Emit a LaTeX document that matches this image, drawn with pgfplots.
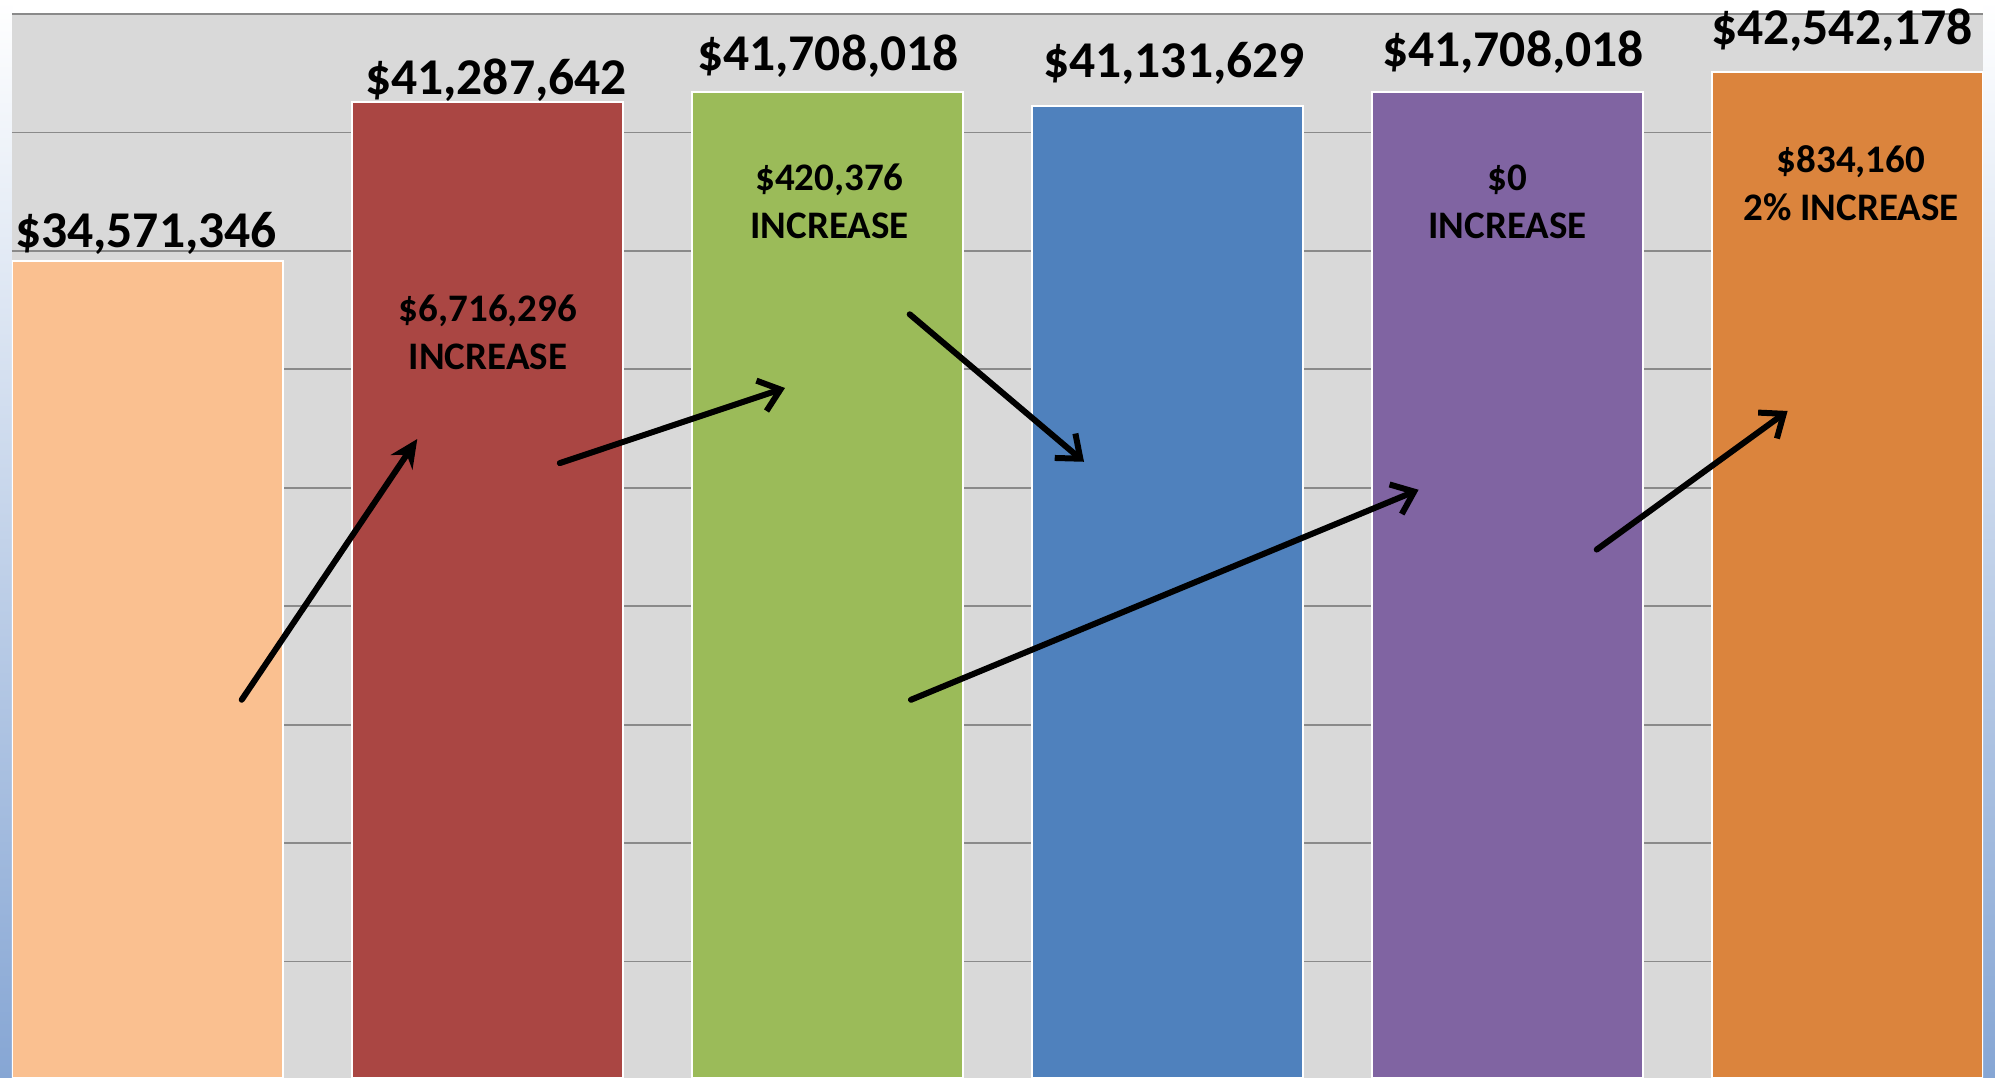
\documentclass[border=0pt]{standalone}
\usepackage{pgfplots}
\pgfplotsset{compat=1.18}
\usepackage{fontspec}
\setmainfont{Carlito}
\usetikzlibrary{arrows.meta}
\definecolor{bggray}{HTML}{D9D9D9}
\definecolor{gridgray}{HTML}{8A8A8A}
\definecolor{cA}{HTML}{FAC090}
\definecolor{cB}{HTML}{AA4643}
\definecolor{cC}{HTML}{9BBB59}
\definecolor{cD}{HTML}{4F81BD}
\definecolor{cE}{HTML}{8064A2}
\definecolor{cF}{HTML}{DB843D}
\definecolor{stripblue}{HTML}{86A6D4}
\begin{document}
\begin{tikzpicture}[x=0.25pt,y=0.25pt]
\path[use as bounding box, fill=white] (0,0) rectangle (1995,1078);
\shade[top color=white, bottom color=stripblue] (0,0) rectangle (12,1078);
\shade[top color=white, bottom color=stripblue] (1983,0) rectangle (1995,1078);
\begin{axis}[
  at={(3pt,0pt)}, anchor=south west,
  scale only axis, width=492.75pt, height=266pt,
  xmin=-0.3985, xmax=5.3985,
  ymin=84428, ymax=45000000,
  ybar, bar shift=0pt, bar width=0.797,
  axis line style={draw=none},
  axis background/.style={fill=bggray},
  xtick=\empty,
  ytick={0,5000000,10000000,15000000,20000000,25000000,30000000,35000000,40000000,45000000},
  yticklabels={}, major tick length=0pt,
  ymajorgrids, grid style={draw=gridgray, line width=0.45pt},
  every axis plot/.append style={draw=white, line width=0.5pt},
]
\addplot[fill=cA] coordinates {(0,34571346)};
\addplot[fill=cB] coordinates {(1,41287642)};
\addplot[fill=cC] coordinates {(2,41708018)};
\addplot[fill=cD] coordinates {(3,41131629)};
\addplot[fill=cE] coordinates {(4,41708018)};
\addplot[fill=cF] coordinates {(5,42542178)};
\end{axis}
% value labels
\begin{scope}[every node/.style={anchor=base, inner sep=0pt, font=\fontsize{12.9}{15}\selectfont\bfseries}]
\node at (146,830) {\$34,571,346};
\node at (496,983) {\$41,287,642};
\node at (828,1007) {\$41,708,018};
\node at (1174,1000) {\$41,131,629};
\node at (1513,1011) {\$41,708,018};
\node at (1842,1033) {\$42,542,178};
\end{scope}
% inner labels
\begin{scope}[every node/.style={anchor=base, inner sep=0pt, font=\fontsize{9.75}{12}\selectfont\bfseries}]
\node at (488,756.5) {\$6,716,296};
\node at (488,708) {INCREASE};
\node at (829.5,887.4) {\$420,376};
\node at (829.5,839) {INCREASE};
\node at (1507.7,887.4) {\$0};
\node at (1507.7,839) {INCREASE};
\node at (1851,905) {\$834,160};
\node at (1851,857) {2\% INCREASE};
\end{scope}
% arrows
\begin{scope}[line width=1.5pt, line cap=round]
\draw[-{Stealth[length=7pt,width=6.5pt]}] (241.7,378.2) -- (417.3,639);
\draw[-{Straight Barb[length=5pt,width=8pt]}] (559.8,614.9) -- (785,690);
\draw[-{Straight Barb[length=5pt,width=8pt]}] (909.7,763.7) -- (1084,616.2);
\draw[-{Straight Barb[length=5pt,width=8pt]}] (911,378.2) -- (1418.6,588.2);
\draw[-{Straight Barb[length=5pt,width=8pt]}] (1596.7,528.4) -- (1787.6,667);
\end{scope}
\end{tikzpicture}
\end{document}
